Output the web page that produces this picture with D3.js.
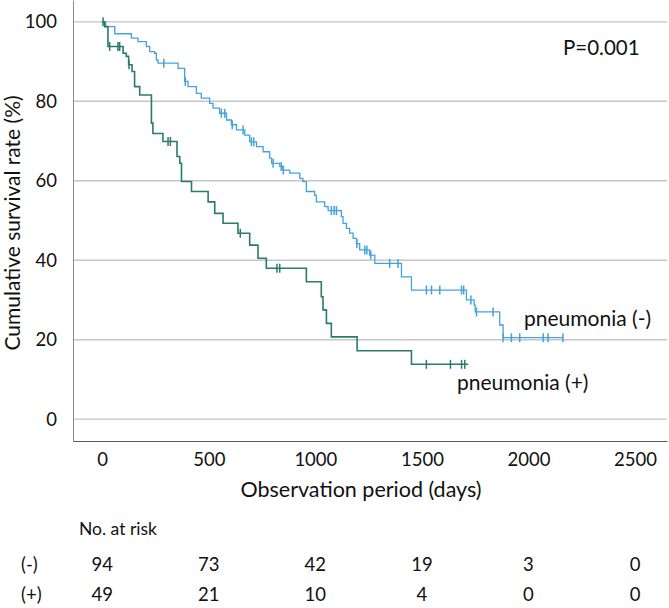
<!DOCTYPE html>
<html>
<head>
<meta charset="utf-8">
<title>Survival by pneumonia</title>
<script src="https://d3js.org/d3.v7.min.js"></script>
<style>
  body { margin: 0; background: #fff; }
  text { font-family: Lato, "Open Sans", sans-serif; fill: #111; }
</style>
</head>
<body>
<div id="my_dataviz"></div>
<script>
// ticks
var xTicks = [0, 500, 1000, 1500, 2000, 2500];
var yTicks = [0, 20, 40, 60, 80, 100];

// pneumonia (-) : step times (days) and survival (%) after each step
var negTime = [0, 16, 59, 137, 168, 207, 223, 246, 254, 262, 356, 387, 403, 442, 465, 504, 520, 551, 583, 606, 630, 669, 692, 724, 755, 786, 795, 833, 848, 880, 927, 942, 958, 997, 1005, 1044, 1060, 1122, 1130, 1146, 1161, 1177, 1193, 1208, 1255, 1279, 1404, 1451, 1709, 1745, 1750, 1865, 1881];
var negSurv = [100, 98.8, 97.0, 95.9, 95.0, 93.8, 92.5, 92.1, 90.4, 89.6, 88.3, 85.0, 83.7, 82.0, 80.8, 79.5, 78.3, 77.0, 75.3, 74.1, 72.8, 71.5, 69.8, 68.6, 67.3, 65.7, 64.4, 63.6, 62.7, 61.9, 60.6, 59.8, 57.3, 56.3, 54.7, 53.5, 52.5, 51.0, 49.3, 48.0, 46.8, 45.5, 44.2, 42.6, 41.3, 39.2, 35.8, 32.5, 30.0, 28.7, 27.0, 23.7, 20.5];
var negCensor = [289, 390, 559, 575, 610, 661, 700, 711, 802, 840, 850, 1075, 1088, 1099, 1195, 1232, 1242, 1260, 1349, 1388, 1521, 1545, 1584, 1686, 1696, 1730, 1756, 1834, 1881, 1920, 1959, 2069, 2092, 2162];
var negEnd = 2162;

// pneumonia (+)
var posTime = [0, 12, 27, 98, 113, 124, 140, 152, 176, 231, 238, 285, 351, 364, 372, 419, 497, 528, 567, 637, 692, 731, 770, 958, 1028, 1036, 1052, 1075, 1196, 1451];
var posSurv = [100, 98.8, 93.8, 92.1, 91.3, 89.2, 87.5, 83.7, 81.6, 74.5, 71.9, 69.9, 66.1, 64.4, 59.8, 57.3, 54.7, 51.8, 49.3, 46.8, 43.8, 40.5, 38.0, 34.6, 30.8, 27.5, 24.1, 20.7, 17.2, 13.8];
var posCensor = [4, 35, 74, 82, 126, 309, 320, 648, 820, 833, 1521, 1634, 1686, 1701];
var posEnd = 1717;

// number at risk
var riskLabels = ["(-)", "(+)"];
var riskNeg = [94, 73, 42, 19, 3, 0];
var riskPos = [49, 21, 10, 4, 0, 0];

var W = 669, H = 608;
var margin = {top: 0, right: 2, left: 73};
var plotBottom = 441;

var svg = d3.select("#my_dataviz")
  .append("svg")
    .attr("width", W)
    .attr("height", H);

var x = d3.scaleLinear()
  .domain([-137, 2650])
  .range([margin.left, W - margin.right]);

var y = d3.scaleLinear()
  .domain([-5.5, 105.5])
  .range([plotBottom, margin.top]);

// gridlines
svg.append("g")
  .selectAll("line")
  .data(yTicks)
  .enter()
  .append("line")
    .attr("x1", margin.left)
    .attr("x2", W - margin.right)
    .attr("y1", function(d) { return y(d); })
    .attr("y2", function(d) { return y(d); })
    .attr("stroke", "#c6c6c6")
    .attr("stroke-width", 1.4);

// axes (no tick marks)
svg.append("g")
  .attr("transform", "translate(" + margin.left + ",0)")
  .call(d3.axisLeft(y).tickValues(yTicks).tickSize(0).tickPadding(16))
  .call(function(g) {
    g.select(".domain").attr("stroke", "#8c8c8c");
    g.selectAll("text").style("font-size", "18.5px").attr("font-family", null);
  });

svg.append("g")
  .attr("transform", "translate(0," + plotBottom + ")")
  .call(d3.axisBottom(x).tickValues(xTicks).tickFormat(d3.format("d")).tickSize(0).tickPadding(12))
  .call(function(g) {
    g.select(".domain").attr("stroke", "#595959");
    g.selectAll("text").style("font-size", "18.5px").attr("font-family", null);
  });

// axis titles
svg.append("text")
  .attr("x", 361)
  .attr("y", 492)
  .attr("text-anchor", "middle")
  .attr("dominant-baseline", "middle")
  .style("font-size", "21.5px")
  .text("Observation period (days)");

svg.append("text")
  .attr("transform", "translate(15,223) rotate(-90)")
  .attr("text-anchor", "middle")
  .attr("dominant-baseline", "middle")
  .style("font-size", "21px")
  .text("Cumulative survival rate (%)");

// KM curves
function steps(times, surv, end) {
  var pts = times.map(function(t, i) { return [t, surv[i]]; });
  pts.push([end, surv[surv.length - 1]]);
  return pts;
}
function survAt(times, surv, t) {
  var i = d3.bisectRight(times, t) - 1;
  return surv[Math.max(i, 0)];
}

var line = d3.line()
  .x(function(d) { return x(d[0]); })
  .y(function(d) { return y(d[1]); })
  .curve(d3.curveStepAfter);

var groups = [
  {time: negTime, surv: negSurv, cens: negCensor, end: negEnd, color: "#46a2dd", w: 1.3},
  {time: posTime, surv: posSurv, cens: posCensor, end: posEnd, color: "#2b7a6d", w: 1.6}
];

groups.forEach(function(g) {
  svg.append("path")
    .datum(steps(g.time, g.surv, g.end))
    .attr("fill", "none")
    .attr("stroke", g.color)
    .attr("stroke-width", g.w)
    .attr("d", line);

  svg.append("g")
    .selectAll("line")
    .data(g.cens)
    .enter()
    .append("line")
      .attr("x1", function(d) { return x(d); })
      .attr("x2", function(d) { return x(d); })
      .attr("y1", function(d) { return y(survAt(g.time, g.surv, d)) - 4.5; })
      .attr("y2", function(d) { return y(survAt(g.time, g.surv, d)) + 4.5; })
      .attr("stroke", g.color)
      .attr("stroke-width", 1.5);
});

// labels
svg.append("text")
  .attr("x", 563).attr("y", 50)
  .attr("dominant-baseline", "middle")
  .style("font-size", "20.5px")
  .text("P=0.001");

svg.append("text")
  .attr("x", 524).attr("y", 321)
  .attr("dominant-baseline", "middle")
  .style("font-size", "21px")
  .text("pneumonia (-)");

svg.append("text")
  .attr("x", 457).attr("y", 385)
  .attr("dominant-baseline", "middle")
  .style("font-size", "21px")
  .text("pneumonia (+)");

// number at risk table
svg.append("text")
  .attr("x", 79).attr("y", 531)
  .attr("dominant-baseline", "middle")
  .style("font-size", "17.5px")
  .text("No. at risk");

[riskNeg, riskPos].forEach(function(row, r) {
  var ry = 566 + r * 30;
  svg.append("text")
    .attr("x", 21).attr("y", ry)
    .attr("dominant-baseline", "middle")
    .style("font-size", "18.5px")
    .text(riskLabels[r]);
  svg.append("g")
    .selectAll("text")
    .data(row)
    .enter()
    .append("text")
      .attr("x", function(d, i) { return x(xTicks[i]); })
      .attr("y", ry)
      .attr("text-anchor", "middle")
      .attr("dominant-baseline", "middle")
      .style("font-size", "18.5px")
      .text(function(d) { return d; });
});
</script>
</body>
</html>
